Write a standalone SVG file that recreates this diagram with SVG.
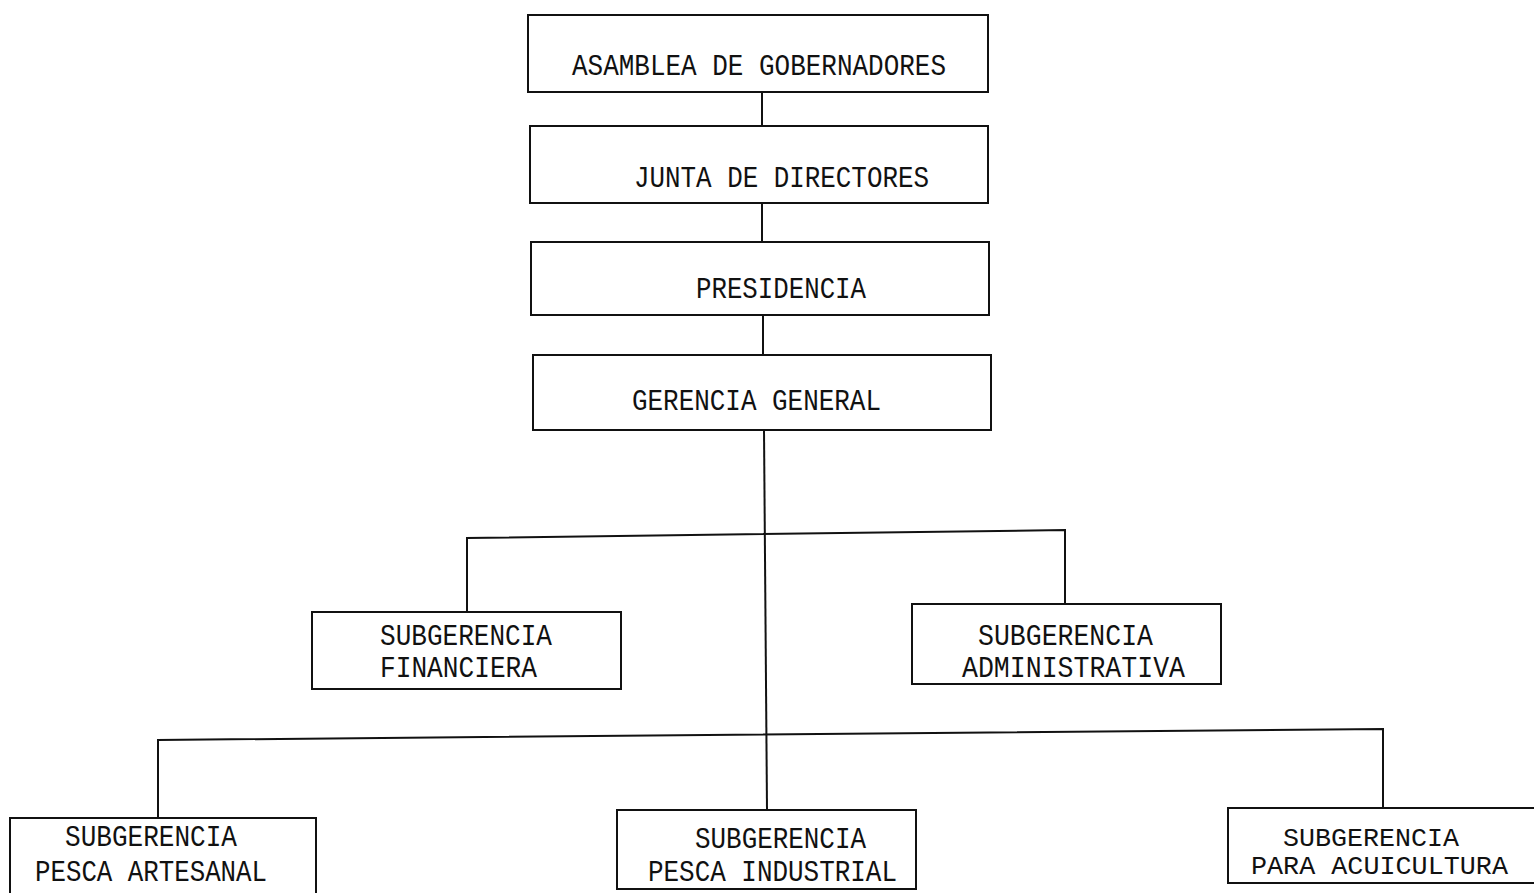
<svg xmlns="http://www.w3.org/2000/svg" width="1534" height="893" viewBox="0 0 1534 893">
<style>
.box{fill:#fff;stroke:#111;stroke-width:2}
.ln{fill:none;stroke:#111;stroke-width:2}
text{font-family:"Liberation Mono","DejaVu Sans Mono",monospace;font-size:29px;fill:#111}
.tight{font-size:25px}
</style>
<rect width="1534" height="893" fill="#fff"/>
<g id="connectors">
<line class="ln" x1="762" y1="92" x2="762" y2="126"/>
<line class="ln" x1="762" y1="203" x2="762" y2="242"/>
<line class="ln" x1="763" y1="315" x2="763" y2="355"/>
<line class="ln" x1="764" y1="430" x2="767" y2="810"/>
<polyline class="ln" points="467,612 467,538 1065,530 1065,604"/>
<polyline class="ln" points="158,818 158,740 1383,729 1383,808"/>
</g>
<g id="asamblea">
<rect class="box" x="528" y="15" width="460" height="77"/>
<text x="572" y="75" textLength="374" lengthAdjust="spacingAndGlyphs">ASAMBLEA DE GOBERNADORES</text>
</g>
<g id="junta">
<rect class="box" x="530" y="126" width="458" height="77"/>
<text x="634" y="187" textLength="295" lengthAdjust="spacingAndGlyphs">JUNTA DE DIRECTORES</text>
</g>
<g id="presidencia">
<rect class="box" x="531" y="242" width="458" height="73"/>
<text x="696" y="298" textLength="170" lengthAdjust="spacingAndGlyphs">PRESIDENCIA</text>
</g>
<g id="gerencia">
<rect class="box" x="533" y="355" width="458" height="75"/>
<text x="632" y="410" textLength="249" lengthAdjust="spacingAndGlyphs">GERENCIA GENERAL</text>
</g>
<g id="financiera">
<rect class="box" x="312" y="612" width="309" height="77"/>
<text x="380" y="645" textLength="172" lengthAdjust="spacingAndGlyphs">SUBGERENCIA</text>
<text x="380" y="677" textLength="157" lengthAdjust="spacingAndGlyphs">FINANCIERA</text>
</g>
<g id="administrativa">
<rect class="box" x="912" y="604" width="309" height="80"/>
<text x="978" y="645" textLength="175" lengthAdjust="spacingAndGlyphs">SUBGERENCIA</text>
<text x="962" y="677" textLength="223" lengthAdjust="spacingAndGlyphs">ADMINISTRATIVA</text>
</g>
<g id="artesanal">
<rect class="box" x="10" y="818" width="306" height="80"/>
<text x="65" y="846" textLength="172" lengthAdjust="spacingAndGlyphs">SUBGERENCIA</text>
<text x="35" y="881" textLength="232" lengthAdjust="spacingAndGlyphs">PESCA ARTESANAL</text>
</g>
<g id="industrial">
<rect class="box" x="617" y="810" width="299" height="79"/>
<text x="695" y="848" textLength="171" lengthAdjust="spacingAndGlyphs">SUBGERENCIA</text>
<text x="648" y="881" textLength="249" lengthAdjust="spacingAndGlyphs">PESCA INDUSTRIAL</text>
</g>
<g id="acuicultura">
<rect class="box" x="1228" y="808" width="310" height="75"/>
<text class="tight" x="1283" y="846" textLength="176" lengthAdjust="spacingAndGlyphs">SUBGERENCIA</text>
<text class="tight" x="1251" y="874" textLength="257" lengthAdjust="spacingAndGlyphs">PARA ACUICULTURA</text>
</g>
</svg>
